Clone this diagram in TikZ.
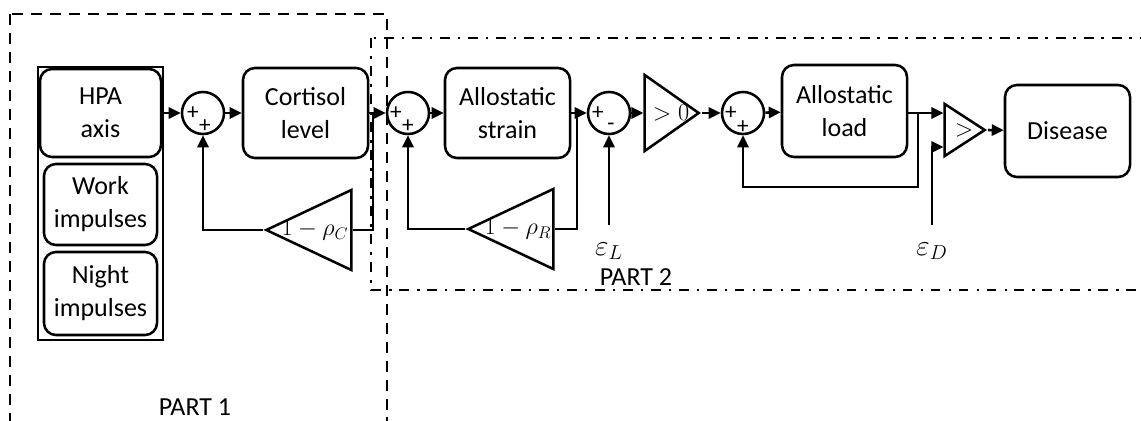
\documentclass[tikz,border=0pt]{standalone}
\usepackage{fontspec}
\setmainfont{Carlito}
\usetikzlibrary{arrows.meta,shapes.geometric,calc}

\begin{document}
\begin{tikzpicture}[x=0.025cm,y=-0.025cm,line width=1.8pt,
   >={Triangle[length=0.3cm,width=0.28cm]},
   font=\fontsize{18.5}{23.5}\selectfont,
   block/.style={draw,rounded corners=0.3cm,align=center,minimum width=3.125cm,minimum height=2.25cm,inner sep=0pt},
   sum/.style={draw,circle,minimum size=1.05cm,inner sep=0pt},
   sgn/.style={font=\fontsize{16.5}{16.5}\selectfont,inner sep=0pt},
   tri/.style={draw,isosceles triangle,isosceles triangle stretches,inner sep=0pt},
   gain/.style={tri,shape border rotate=180,minimum width=2cm,minimum height=2.125cm,anchor=apex},
   eps/.style={inner sep=1pt,outer sep=11.5pt,font=\fontsize{20}{20}\selectfont},
   frame1/.style={line width=2pt,dash pattern=on 8pt off 5.5pt},
   frame2/.style={line width=1.9pt,dash pattern=on 7pt off 5.8pt on 1.9pt off 5.2pt}]
\useasboundingbox (0,0) rectangle (1141,420);
\clip (0,0) rectangle (1141,420);
% the two parts
\draw[frame1] (10,14) rectangle (387,460);
\draw[frame2] (371,38) rectangle (1180,290);
\node (p1) at (195,407) {PART 1};
\node (p2) at (636,277) {PART 2};
% input stack
\node[draw,minimum width=3.125cm,minimum height=6.825cm,inner sep=0pt] (stack) at (100.5,203.5) {};
\node[block,minimum width=3.025cm,minimum height=2.2cm] (hpa) at (100.5,113) {HPA\\axis};
\node[block,minimum width=2.825cm,minimum height=2.025cm] (work) at (100.5,204.5) {Work\\impulses};
\node[block,minimum width=2.825cm,minimum height=2.075cm] (night) at (100.5,293.5) {Night\\impulses};
% main chain
\node[sum] (s1) at (203,113) {};
\node[block] (cort) at (305.5,113) {Cortisol\\level};
\node[sum] (s2) at (408,113) {};
\node[block] (strain) at (507.5,113) {Allostatic\\strain};
\node[sum] (s3) at (609,113) {};
\node[tri,minimum width=1.9cm,minimum height=1.35cm,anchor=apex] (pos) at (702,113) {};
\node (post) at (671,113) {$>0$};
\node[sum] (s4) at (743,113) {};
\node[block,minimum height=2.3cm] (load) at (844.5,111) {Allostatic\\load};
\node[tri,minimum width=1.3cm,minimum height=1cm,anchor=apex] (cmp) at (988,130) {};
\node (cmpt) at (964,130) {$>$};
\node[block,minimum height=2.3cm] (dis) at (1067.5,131) {Disease};
% gains in the loops
\node[gain] (gC) at (263,230) {};
\node (gCt) at (315,230) {$1-\rho_C$};
\node[gain] (gR) at (465,229) {};
\node (gRt) at (518,229) {$1-\rho_R$};
% signs
\node[sgn] at ($(s1)+(-10,0)$) {+};
\node[sgn] at ($(s1)+(2,13)$) {+};
\node[sgn] at ($(s2)+(-12,0)$) {+};
\node[sgn] at ($(s2)+(0,13)$) {+};
\node[sgn] at ($(s3)+(-11,0)$) {+};
\node[sgn] at ($(s3)+(2,14)$) {-};
\node[sgn] at ($(s4)+(-12,0)$) {+};
\node[sgn] at ($(s4)+(0,14)$) {+};
% thresholds
\node[eps] (eL) at (609,251) {$\varepsilon_L$};
\node[eps] (eD) at (932,251) {$\varepsilon_D$};
\coordinate (cmpA) at ($(cmp.lower side)+(0,-17)$);
\coordinate (cmpB) at ($(cmp.lower side)+(0,17)$);
\coordinate (bC) at (373,113);
\coordinate (bR) at (577,113);
\coordinate (bL) at (918,113);
\coordinate (fL) at (918,187);
% forward path
\draw[->] (hpa.east -| stack.east) -- (s1);
\draw[->] (s1) -- (cort);
\draw[->] (cort) -- (s2);
\draw[->] (s2) -- (strain);
\draw[->] (strain) -- (s3);
\draw[->] (s3) -- (pos.lower side);
\draw[->] (pos.apex) -- (s4);
\draw[->] (s4) -- (load);
\draw[->] (load.east |- cmpA) -- (cmpA);
\draw[->] (cmp.apex) -- (dis);
% feedback loops
\draw (bC) |- (gC.lower side);
\draw[->] (gC.apex) -| (s1);
\draw (bR) |- (gR.lower side);
\draw[->] (gR.apex) -| (s2);
\draw[->] (bL) -- (fL) -| (s4);
\draw[->] (eL) -- (s3);
\draw[->] (eD) |- (cmpB);
\end{tikzpicture}
\end{document}
